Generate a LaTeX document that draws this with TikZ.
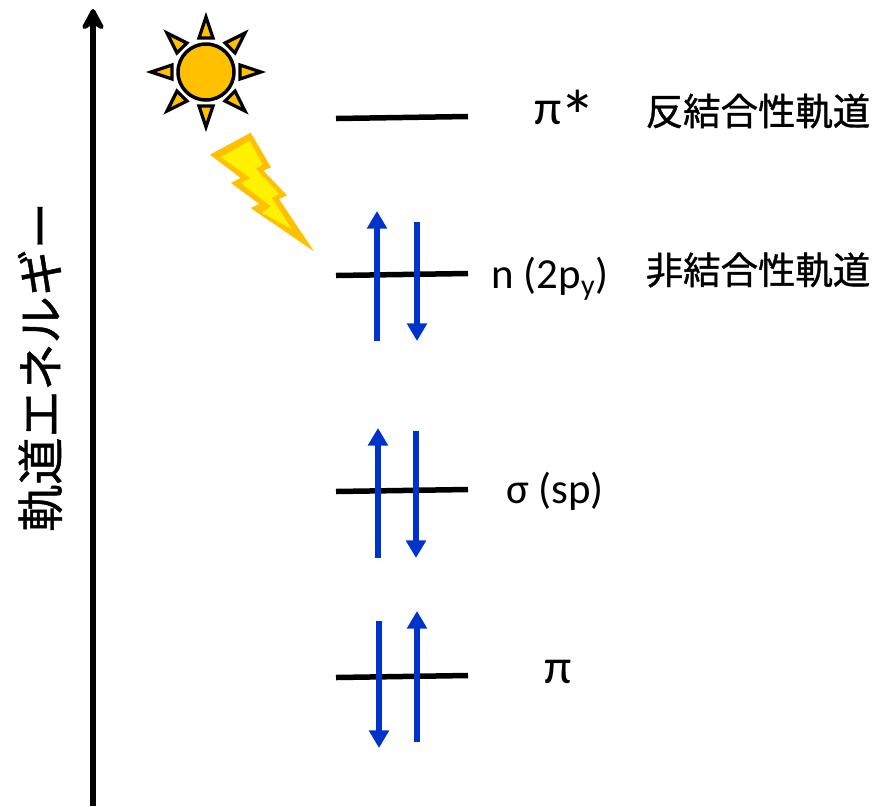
\documentclass[tikz,border=0pt]{standalone}
\usepackage{fontspec}
\setmainfont{Carlito}
\newfontfamily\jpfont[FakeBold=1]{Noto Sans CJK JP}
\usetikzlibrary{arrows.meta}
\definecolor{sunorange}{HTML}{FFC000}
\definecolor{spinblue}{HTML}{0033CC}
\begin{document}
\begin{tikzpicture}[
    x=0.02cm, y=-0.02cm,
    level/.style={line width=0.11cm, black},
    spin/.style={-{Triangle[length=10pt,width=11pt]}, line width=0.115cm, spinblue},
    axis/.style={-{Stealth[length=15pt,width=16pt,inset=5pt,round]}, line width=0.11cm},
    orbital/.style={font=\fontsize{24.4}{28}\selectfont, inner sep=0pt},
    pisym/.style={font=\fontsize{28}{30}\selectfont, inner sep=0pt},
    kind/.style={font=\jpfont\fontsize{21.3}{25}\selectfont, inner sep=0pt},
    sunray/.style={draw=black, fill=sunorange, line width=0.065cm, miter limit=10}
]
\useasboundingbox (0,0) rectangle (873,806);

% Energy axis
\coordinate (axis_bottom) at (93,806);
\coordinate (axis_top) at (93,9);
\draw[axis] (axis_bottom) -- (axis_top);
\node[font=\jpfont\fontsize{26.8}{30}\selectfont, rotate=90, inner sep=0pt] (axis_label) at (40,367) {軌道エネルギー};

% Orbital levels
\coordinate (pistar_l) at (336,118.5);
\coordinate (pistar_r) at (468,116.5);
\coordinate (n_l) at (336,275.5);
\coordinate (n_r) at (468,273.5);
\coordinate (sigma_l) at (336,491.5);
\coordinate (sigma_r) at (468,489.5);
\coordinate (pi_l) at (336,677.5);
\coordinate (pi_r) at (468,675.5);
\draw[level] (pistar_l) -- (pistar_r);
\draw[level] (n_l) -- (n_r);
\draw[level] (sigma_l) -- (sigma_r);
\draw[level] (pi_l) -- (pi_r);

% Electrons
\coordinate (n_up_a) at (377,341);
\coordinate (n_up_b) at (377,211);
\coordinate (n_down_a) at (417,222);
\coordinate (n_down_b) at (417,341);
\coordinate (sigma_up_a) at (378,558);
\coordinate (sigma_up_b) at (378,428);
\coordinate (sigma_down_a) at (416,431);
\coordinate (sigma_down_b) at (416,558);
\coordinate (pi_down_a) at (379,621);
\coordinate (pi_down_b) at (379,748);
\coordinate (pi_up_a) at (417,742);
\coordinate (pi_up_b) at (417,611);
\draw[spin] (n_up_a) -- (n_up_b);
\draw[spin] (n_down_a) -- (n_down_b);
\draw[spin] (sigma_up_a) -- (sigma_up_b);
\draw[spin] (sigma_down_a) -- (sigma_down_b);
\draw[spin] (pi_down_a) -- (pi_down_b);
\draw[spin] (pi_up_a) -- (pi_up_b);

% Labels
\node[pisym] (pistar_label) at (548,113) {π};
\node[font=\fontsize{42}{42}\selectfont, inner sep=0pt] (star_label) at (578,116) {*};
\node[orbital] (n_label) at (550,279) {n (2p\textsubscript{y})};
\node[orbital] (sigma_label) at (555,491) {σ (sp)};
\node[pisym] (pi_label) at (558,672) {π};
\node[kind] (anti_label) at (758,111) {反結合性軌道};
\node[kind] (non_label) at (758,270) {非結合性軌道};

% Sun
\node[circle, draw=black, fill=sunorange, line width=0.07cm, minimum size=1.12cm, inner sep=0pt] (sun) at (206,72) {};
\foreach \a in {0,45,...,315}
    \draw[sunray, rotate around={\a:(sun.center)}] (199,38) -- (206,17) -- (213,38) -- cycle;

% Lightning
\fill[sunorange] (250.7,132.7) -- (271,167.3) -- (263.3,170.7) -- (287,195.3) -- (279,199) -- (314,251.3) -- (250.7,208) -- (259.3,204) -- (231,183) -- (240.7,178) -- (210,154.7) -- cycle;
\fill[yellow] (250,140.7) -- (262.3,164.7) -- (255.7,168.7) -- (279,193.7) -- (271.7,198) -- (291.7,229) -- (262.3,213) -- (270.7,206.3) -- (241,183) -- (250.7,178) -- (221,157.3) -- cycle;

\end{tikzpicture}
\end{document}
